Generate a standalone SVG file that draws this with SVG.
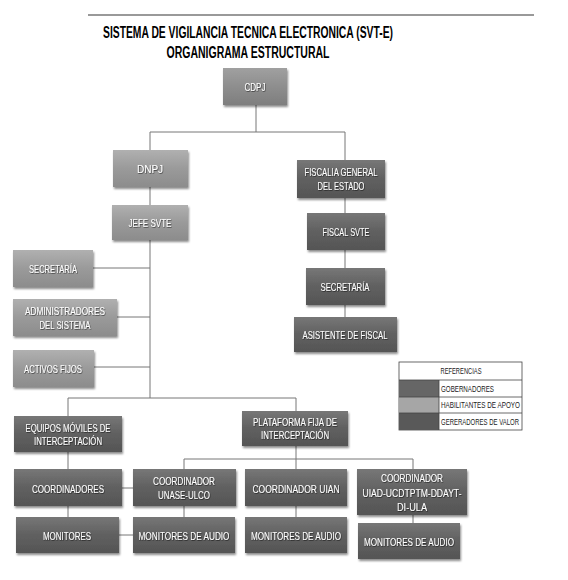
<svg xmlns="http://www.w3.org/2000/svg" width="568" height="580" viewBox="0 0 568 580">
<style>
.t{font-family:"Liberation Sans",Arial,sans-serif;font-size:11px;fill:#fff;text-anchor:middle;filter:url(#ts)}
.ttl{font-family:"Liberation Sans",Arial,sans-serif;font-size:16px;font-weight:bold;fill:#000;text-anchor:middle}
.lg{font-family:"Liberation Sans",Arial,sans-serif;font-size:9.5px;fill:#222}
.c{stroke:#777;stroke-width:1;fill:none}
.light{fill:url(#gL);filter:url(#sh)}
.mid{fill:url(#gM);filter:url(#sh)}
.dark{fill:url(#gD);filter:url(#sh)}
</style>
<defs>
<linearGradient id="gL" x1="0" y1="0" x2="0" y2="1"><stop offset="0" stop-color="#b0b0b0"/><stop offset="0.5" stop-color="#9a9a9a"/><stop offset="1" stop-color="#8c8c8c"/></linearGradient>
<linearGradient id="gM" x1="0" y1="0" x2="0" y2="1"><stop offset="0" stop-color="#a0a0a0"/><stop offset="0.5" stop-color="#8e8e8e"/><stop offset="1" stop-color="#7e7e7e"/></linearGradient>
<linearGradient id="gD" x1="0" y1="0" x2="0" y2="1"><stop offset="0" stop-color="#777"/><stop offset="0.5" stop-color="#606060"/><stop offset="1" stop-color="#555"/></linearGradient>
<filter id="sh" x="-10%" y="-10%" width="125%" height="135%"><feDropShadow dx="1" dy="2" stdDeviation="1.2" flood-color="#000" flood-opacity="0.45"/></filter>
<filter id="ts" x="-10%" y="-30%" width="120%" height="160%"><feDropShadow dx="0.6" dy="0.8" stdDeviation="0.4" flood-color="#000" flood-opacity="0.6"/></filter>
</defs>
<rect width="568" height="580" fill="#fff"/>
<line x1="88" y1="15" x2="534" y2="15" stroke="#999" stroke-width="2"/>
<text class="ttl" x="248" y="38" textLength="290" lengthAdjust="spacingAndGlyphs">SISTEMA DE VIGILANCIA TECNICA ELECTRONICA (SVT-E)</text>
<text class="ttl" x="248" y="58" textLength="163" lengthAdjust="spacingAndGlyphs">ORGANIGRAMA ESTRUCTURAL</text>

<g id="connectors">
<path class="c" d="M256 105V132M150 132H345M150 132V150M345 132V160"/>
<path class="c" d="M150 187V205M345 198V213M345 250V268M345 305V317"/>
<path class="c" d="M150 240V398M93 268H150M117 317H150M94 367H150M68 398H296M68 398V416M296 398V411"/>
<path class="c" d="M68 452V469M68 506V517M122 488H133M119 535H133M184 506V517"/>
<path class="c" d="M296 446V469M184 459H413M184 459V469M413 459V469M296 506V517M413 515V523"/>
</g>

<g id="cdpj"><rect class="mid" x="223" y="68" width="64" height="37"/><text class="t" x="255" y="91" textLength="21" lengthAdjust="spacingAndGlyphs">CDPJ</text></g>
<g id="dnpj"><rect class="light" x="113" y="150" width="75" height="37"/><text class="t" x="150" y="173" textLength="26" lengthAdjust="spacingAndGlyphs">DNPJ</text></g>
<g id="jefe"><rect class="light" x="112" y="205" width="76" height="35"/><text class="t" x="150" y="227" textLength="43" lengthAdjust="spacingAndGlyphs">JEFE SVTE</text></g>
<g id="fiscalia"><rect class="dark" x="297" y="160" width="88" height="38"/><text class="t" x="341" y="176" textLength="73" lengthAdjust="spacingAndGlyphs">FISCALIA GENERAL</text><text class="t" x="341" y="190" textLength="47" lengthAdjust="spacingAndGlyphs">DEL ESTADO</text></g>
<g id="fiscal"><rect class="dark" x="307" y="213" width="78" height="37"/><text class="t" x="346" y="236" textLength="47" lengthAdjust="spacingAndGlyphs">FISCAL SVTE</text></g>
<g id="secretaria2"><rect class="dark" x="306" y="268" width="79" height="37"/><text class="t" x="345" y="291" textLength="49" lengthAdjust="spacingAndGlyphs">SECRETARÍA</text></g>
<g id="asistente"><rect class="dark" x="294" y="317" width="103" height="35"/><text class="t" x="345" y="339" textLength="85" lengthAdjust="spacingAndGlyphs">ASISTENTE DE FISCAL</text></g>

<g id="secretaria1"><rect class="light" x="13" y="250" width="80" height="37"/><text class="t" x="53" y="273" textLength="48" lengthAdjust="spacingAndGlyphs">SECRETARÍA</text></g>
<g id="administradores"><rect class="light" x="13" y="299" width="104" height="37"/><text class="t" x="65" y="315" textLength="80" lengthAdjust="spacingAndGlyphs">ADMINISTRADORES</text><text class="t" x="65" y="329" textLength="51" lengthAdjust="spacingAndGlyphs">DEL SISTEMA</text></g>
<g id="activos"><rect class="light" x="13" y="350" width="81" height="37"/><text class="t" x="53" y="373" textLength="58" lengthAdjust="spacingAndGlyphs">ACTIVOS FIJOS</text></g>

<g id="equipos"><rect class="dark" x="14" y="416" width="108" height="36"/><text class="t" x="68" y="432" textLength="85" lengthAdjust="spacingAndGlyphs">EQUIPOS MÓVILES DE</text><text class="t" x="68" y="445" textLength="68" lengthAdjust="spacingAndGlyphs">INTERCEPTACIÓN</text></g>
<g id="plataforma"><rect class="dark" x="242" y="411" width="106" height="35"/><text class="t" x="295" y="426" textLength="84" lengthAdjust="spacingAndGlyphs">PLATAFORMA FIJA DE</text><text class="t" x="295" y="439" textLength="68" lengthAdjust="spacingAndGlyphs">INTERCEPTACIÓN</text></g>

<g id="coordinadores"><rect class="dark" x="14" y="469" width="108" height="37"/><text class="t" x="68" y="493" textLength="72" lengthAdjust="spacingAndGlyphs">COORDINADORES</text></g>
<g id="monitores"><rect class="dark" x="16" y="517" width="103" height="36"/><text class="t" x="67" y="540" textLength="48" lengthAdjust="spacingAndGlyphs">MONITORES</text></g>
<g id="unase"><rect class="dark" x="133" y="469" width="103" height="37"/><text class="t" x="184" y="485" textLength="62" lengthAdjust="spacingAndGlyphs">COORDINADOR</text><text class="t" x="184" y="499" textLength="52" lengthAdjust="spacingAndGlyphs">UNASE-ULCO</text></g>
<g id="mon1"><rect class="dark" x="133" y="517" width="102" height="36"/><text class="t" x="184" y="540" textLength="91" lengthAdjust="spacingAndGlyphs">MONITORES DE AUDIO</text></g>
<g id="uian"><rect class="dark" x="245" y="469" width="102" height="37"/><text class="t" x="296" y="493" textLength="87" lengthAdjust="spacingAndGlyphs">COORDINADOR UIAN</text></g>
<g id="mon2"><rect class="dark" x="245" y="517" width="102" height="36"/><text class="t" x="296" y="540" textLength="90" lengthAdjust="spacingAndGlyphs">MONITORES DE AUDIO</text></g>
<g id="uiad"><rect class="dark" x="357" y="469" width="110" height="46"/><text class="t" x="412" y="482" textLength="62" lengthAdjust="spacingAndGlyphs">COORDINADOR</text><text class="t" x="412" y="497" textLength="99" lengthAdjust="spacingAndGlyphs">UIAD-UCDTPTM-DDAYT-</text><text class="t" x="412" y="511" textLength="30" lengthAdjust="spacingAndGlyphs">DI-ULA</text></g>
<g id="mon3"><rect class="dark" x="358" y="523" width="102" height="36"/><text class="t" x="409" y="546" textLength="90" lengthAdjust="spacingAndGlyphs">MONITORES DE AUDIO</text></g>

<g id="legend">
<rect x="399" y="362" width="123" height="68" fill="#fff" stroke="#444" stroke-width="0.8"/>
<rect x="399" y="380" width="40" height="17" fill="#666"/>
<rect x="399" y="397" width="40" height="16" fill="#a6a6a6"/>
<rect x="399" y="413" width="40" height="17" fill="#595959"/>
<path d="M399 380H522M399 397H522M399 413H522M439 380V430" stroke="#444" stroke-width="0.8" fill="none"/>
<text class="lg" x="461" y="374" text-anchor="middle" textLength="41" lengthAdjust="spacingAndGlyphs">REFERENCIAS</text>
<text class="lg" x="441" y="391.5" textLength="53" lengthAdjust="spacingAndGlyphs">GOBERNADORES</text>
<text class="lg" x="441" y="408" textLength="79" lengthAdjust="spacingAndGlyphs">HABILITANTES DE APOYO</text>
<text class="lg" x="441" y="424.5" textLength="78" lengthAdjust="spacingAndGlyphs">GERERADORES DE VALOR</text>
</g>
</svg>
